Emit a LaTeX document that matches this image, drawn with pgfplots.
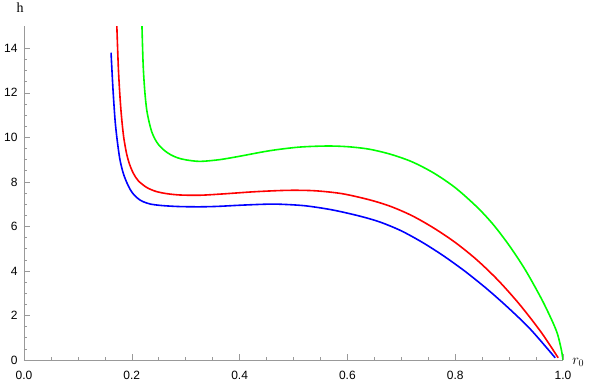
\documentclass[border=0pt]{standalone}
\usepackage{pgfplots}
\pgfplotsset{compat=1.18}
\usepackage{fontspec}
\setmainfont{Liberation Serif}
\newfontfamily\tickfont{Liberation Sans}
\definecolor{axgray}{rgb}{0.6,0.6,0.6}
\begin{document}
\begin{tikzpicture}
\useasboundingbox (0,0) rectangle (589pt,384pt);
\begin{axis}[
  at={(24pt,24pt)}, anchor=south west,
  scale only axis, width=539pt, height=334pt,
  xmin=0, xmax=1, ymin=0, ymax=15,
  axis lines=left,
  axis line style={-, color=axgray, line width=0.6pt},
  tick style={color=axgray, line width=0.6pt},
  major tick length=6pt, minor tick length=3.5pt,
  tick align=inside,
  xtick={0,0.2,0.4,0.6,0.8,1.0},
  ytick={0,2,4,6,8,10,12,14},
  minor tick num=3,
  xticklabel={\pgfmathprintnumber[fixed,fixed zerofill,precision=1]{\tick}},
  /pgf/number format/assume math mode=true,
  ticklabel style={font=\tickfont\fontsize{12}{12}\selectfont, text=black},
  xticklabel style={anchor=north, yshift=-8pt},
  yticklabel style={anchor=east, xshift=-3pt},
  clip mode=individual,
]
\addplot[blue, line width=1.6pt, smooth, tension=0.5] coordinates {
(0.1615,13.8) (0.165,12.2) (0.169,10.76) (0.173,9.85) (0.178,9.0) (0.184,8.4)
(0.1905,7.98) (0.197,7.66) (0.203,7.45) (0.212,7.24) (0.221,7.11) (0.235,7.00)
(0.25,6.95) (0.265,6.92) (0.29,6.89) (0.3265,6.88) (0.36,6.90) (0.40,6.95) (0.44,6.99)
(0.47,7.00) (0.52,6.93) (0.57,6.75) (0.62,6.48) (0.66,6.20) (0.70,5.80) (0.74,5.27)
(0.78,4.65) (0.82,3.95) (0.86,3.17) (0.90,2.31) (0.94,1.37) (0.9855,0.10)
};
\addplot[red, line width=1.6pt, smooth, tension=0.5] coordinates {
(0.1718,15.3) (0.175,13.15) (0.178,11.85) (0.181,10.9) (0.185,10.0) (0.1905,9.25)
(0.196,8.78) (0.203,8.38) (0.212,8.05) (0.2276,7.75) (0.245,7.57) (0.265,7.47)
(0.29,7.41) (0.3265,7.40) (0.37,7.46) (0.43,7.56) (0.49,7.62) (0.54,7.60) (0.59,7.47)
(0.64,7.20) (0.68,6.90) (0.72,6.48) (0.76,5.93) (0.80,5.28) (0.84,4.50) (0.88,3.57)
(0.92,2.48) (0.96,1.23) (0.991,0.10)
};
\addplot[green, line width=1.6pt, smooth, tension=0.5] coordinates {
(0.2185,15.3) (0.221,13.3) (0.224,12.1) (0.2276,11.25) (0.232,10.7) (0.237,10.25)
(0.243,9.92) (0.25,9.66) (0.26,9.42) (0.272,9.22) (0.285,9.08) (0.30,8.99) (0.3265,8.92)
(0.3636,9.00) (0.40,9.15) (0.456,9.40) (0.51,9.56) (0.5616,9.61) (0.60,9.58) (0.64,9.47)
(0.68,9.24) (0.72,8.90) (0.76,8.40) (0.80,7.74) (0.84,6.88) (0.87,6.10) (0.90,5.15)
(0.93,4.05) (0.96,2.75) (0.98,1.75) (0.99,1.15) (0.997,0.45) (1.0,0)
};
\node[font=\fontsize{14}{14}\selectfont, inner sep=0pt] at (axis description cs:-0.0074,1.056) {h};
\node[font=\fontsize{14}{14}\selectfont, inner sep=0pt, anchor=west] at (axis description cs:1.017,-0.006) {$r_0$};
\end{axis}
\end{tikzpicture}
\end{document}
